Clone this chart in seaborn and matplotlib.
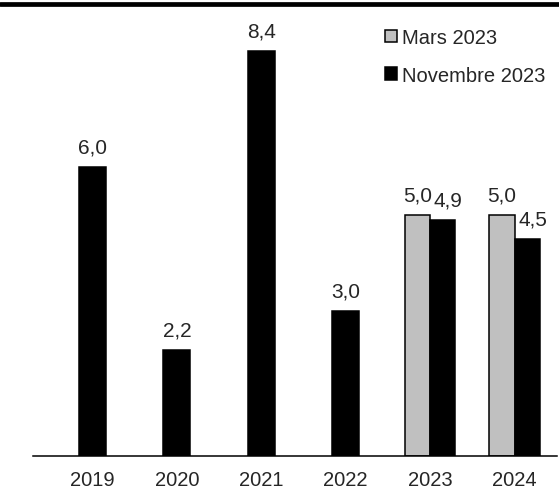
import matplotlib
matplotlib.use("Agg")
import matplotlib.pyplot as plt
from matplotlib.lines import Line2D
from matplotlib.patches import Patch
import numpy as np
import pandas as pd
import seaborn as sns

# données du graphique
annees = ["2019", "2020", "2021", "2022", "2023", "2024"]
mars_2023 = [np.nan, np.nan, np.nan, np.nan, 5.0, 5.0]
novembre_2023 = [6.0, 2.2, 8.4, 3.0, 4.9, 4.5]
series = ["Mars 2023", "Novembre 2023"]
couleurs = {"Mars 2023": "#c0c0c0", "Novembre 2023": "black"}

df = pd.DataFrame({"annee": annees * 2,
                   "valeur": mars_2023 + novembre_2023,
                   "serie": [series[0]] * len(annees) + [series[1]] * len(annees)})
df = df.dropna()

sns.set_style("white")
plt.rcParams["font.family"] = ["Liberation Sans", "DejaVu Sans"]

fig = plt.figure(figsize=(5.59, 5.02), dpi=100)
ax = fig.add_axes([33 / 559, 45 / 502, 524 / 559, 437 / 502])

sns.barplot(data=df, x="annee", y="valeur", hue="serie", order=annees,
            hue_order=series, palette=couleurs, dodge=True, width=0.6, gap=0,
            errorbar=None, edgecolor="black", linewidth=1.1, legend=False, ax=ax)

# barres seules : recentrer sur l'annee
pairs = [i for i, v in enumerate(mars_2023) if not np.isnan(v)]
for cont in ax.containers:
    for bar in cont:
        w = bar.get_width()
        c = bar.get_x() + w / 2
        idx = int(round(c))
        if idx not in pairs:
            bar.set_width(0.32)
            bar.set_x(idx - 0.16)

# etiquettes de valeurs
for cont, serie in zip(ax.containers, series):
    for bar in cont:
        h = bar.get_height()
        x = bar.get_x() + bar.get_width() / 2
        dx = 0
        if serie == "Novembre 2023" and int(round(x)) in pairs:
            dx = 4
        ax.annotate(f"{h:.1f}".replace(".", ","), (x, h), xytext=(dx, 10.5),
                    textcoords="offset points", ha="center", va="baseline",
                    fontsize=15)

ax.set_xlim(-0.705, 5.503)
ax.set_ylim(0, 437 / 48.2)
ax.set_xlabel("")
ax.set_ylabel("")
ax.set_yticks([])
ax.tick_params(axis="x", length=0, pad=10.3, labelsize=14.5)
for s in ["left", "top", "right"]:
    ax.spines[s].set_visible(False)
ax.spines["bottom"].set_color("black")
ax.spines["bottom"].set_linewidth(1.1)

handles = [Patch(facecolor=couleurs[s], edgecolor="black", linewidth=1.1) for s in series]
fig.legend(handles, series, loc="upper left", bbox_to_anchor=(385 / 559, 1 - 29 / 502),
           frameon=False, fontsize=14.5, handlelength=0.6, handleheight=0.6,
           handletextpad=0.25, labelspacing=0.92, borderpad=0, borderaxespad=0)

# trait epais en haut
fig.add_artist(Line2D([0, 1], [1 - 5 / 502, 1 - 5 / 502], transform=fig.transFigure,
                      color="black", linewidth=3.4))

fig.savefig("out.png", dpi=100)
